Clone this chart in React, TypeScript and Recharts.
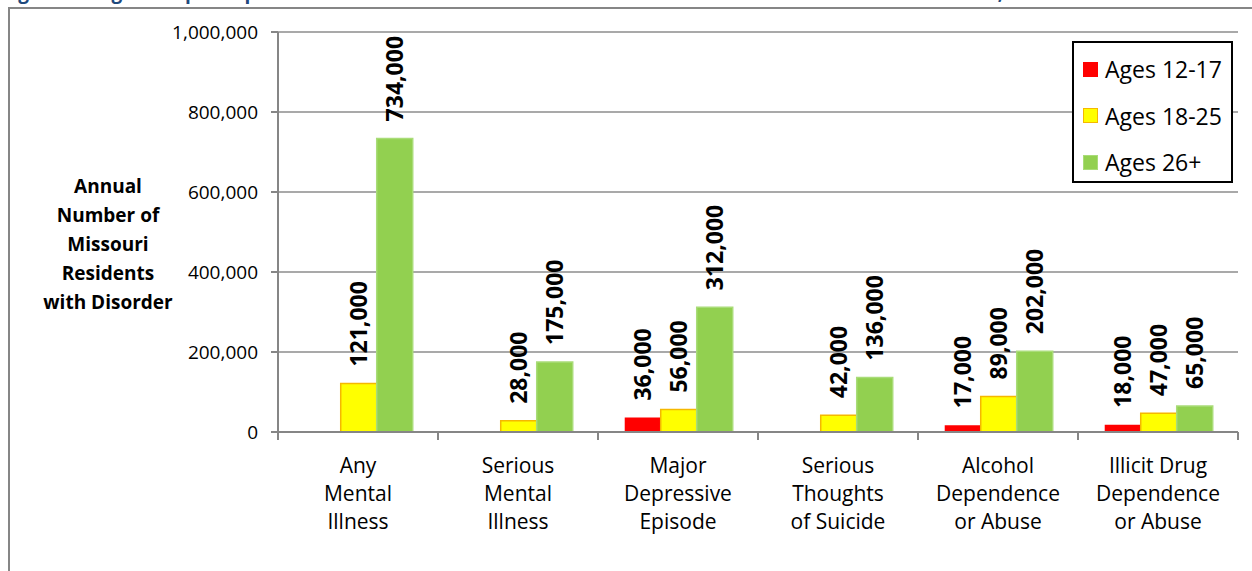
import { Bar, BarChart, CartesianGrid, LabelList, XAxis, YAxis } from "recharts";

// Categorias (quebra de linha = nova linha no rótulo do eixo)
const CATEGORIES = [
  "Any\nMental\nIllness",
  "Serious\nMental\nIllness",
  "Major\nDepressive\nEpisode",
  "Serious\nThoughts\nof Suicide",
  "Alcohol\nDependence\nor Abuse",
  "Illicit Drug\nDependence\nor Abuse",
];

const AGES_12_17 = [null, null, 36000, null, 17000, 18000];
const AGES_18_25 = [121000, 28000, 56000, 42000, 89000, 47000];
const AGES_26_PLUS = [734000, 175000, 312000, 136000, 202000, 65000];

const Y_TICKS = [0, 200000, 400000, 600000, 800000, 1000000];

const SERIES = [
  { key: "a", name: "Ages 12-17", fill: "#FF0000", stroke: "none" },
  { key: "b", name: "Ages 18-25", fill: "#FFFF00", stroke: "#F5B800" },
  { key: "c", name: "Ages 26+", fill: "#92D050", stroke: "#A9DC78" },
];

const FONT = "'Open Sans', sans-serif";
const GREY = "#868686";

const data = CATEGORIES.map((name, i) => ({
  name,
  a: AGES_12_17[i],
  b: AGES_18_25[i],
  c: AGES_26_PLUS[i],
}));

const fmt = (v: number) => v.toLocaleString("en-US");

function ValueLabel(props: any) {
  const { x, y, width, value } = props;
  if (value == null) return null;
  const cx = Number(x) + Number(width) / 2;
  const ty = Number(y) - 17;
  return (
    <text
      x={cx}
      y={ty}
      dy="0.36em"
      transform={`rotate(-90 ${cx} ${ty})`}
      textAnchor="start"
      fontFamily={FONT}
      fontWeight={700}
      fontSize={23}
      fill="#000"
    >
      {fmt(Number(value))}
    </text>
  );
}

function CategoryTick(props: any) {
  const { x, y, payload, width, visibleTicksCount, index } = props;
  const half =
    payload?.offset || Number(width) / Number(visibleTicksCount || 6) / 2;
  const lines = String(payload.value).split("\n");
  const last = index === (visibleTicksCount || 6) - 1;
  return (
    <g>
      <line x1={x - half} x2={x - half} y1={y} y2={y + 8} stroke={GREY} strokeWidth={2} />
      {last && (
        <line x1={x + half} x2={x + half} y1={y} y2={y + 8} stroke={GREY} strokeWidth={2} />
      )}
      {lines.map((l, i) => (
        <text
          key={i}
          x={x}
          y={y + 33 + i * 28}
          dy="0.36em"
          textAnchor="middle"
          fontFamily={FONT}
          fontSize={21}
          fill="#000"
        >
          {l}
        </text>
      ))}
    </g>
  );
}

function LegendBox() {
  return (
    <div
      style={{
        position: "absolute",
        left: 1072,
        top: 41,
        boxSizing: "border-box",
        width: 161,
        height: 142,
        border: "2px solid #000",
        background: "#fff",
        padding: "3px 0 0 9px",
        fontFamily: FONT,
        fontSize: 23,
      }}
    >
      {SERIES.map((s) => (
        <div
          key={s.key}
          style={{ display: "flex", alignItems: "center", height: 46.5 }}
        >
          <span
            style={{
              boxSizing: "border-box",
              width: 15,
              height: 15,
              background: s.fill,
              border: s.stroke === "none" ? "none" : `1.5px solid ${s.stroke}`,
              marginRight: 7,
            }}
          />
          <span style={{ color: "#000" }}>{s.name}</span>
        </div>
      ))}
    </div>
  );
}

export default function App() {
  return (
    <div
      style={{
        position: "absolute",
        left: 0,
        top: 0,
        width: 1252,
        height: 571,
        overflow: "hidden",
        background: "#fff",
      }}
    >
      {/* título cortado no topo */}
      <div
        style={{
          position: "absolute",
          left: 2,
          top: -17,
          whiteSpace: "nowrap",
          fontFamily: FONT,
          fontWeight: 700,
          fontSize: 19,
          lineHeight: "19px",
          color: "#1F497D",
        }}
      >
        Figure 10. Age Group Comparisons of Missouri Residents with Mental Illness and Substance Use Disorders, 2010
      </div>
      <div
        style={{
          position: "absolute",
          left: 8,
          top: 7,
          width: 1400,
          height: 700,
          borderLeft: `2px solid ${GREY}`,
          borderTop: `2px solid ${GREY}`,
        }}
      />
      <div
        style={{
          position: "absolute",
          left: 8,
          top: 172,
          width: 200,
          textAlign: "center",
          fontFamily: FONT,
          fontWeight: 700,
          fontSize: 19,
          lineHeight: "29px",
          color: "#000",
        }}
      >
        Annual
        <br />
        Number of
        <br />
        Missouri
        <br />
        Residents
        <br />
        with Disorder
      </div>
      <div style={{ position: "absolute", left: 0, top: 0 }}>
        <BarChart
          width={1252}
          height={571}
          data={data}
          margin={{ top: 32, right: 14, left: 178, bottom: 79 }}
          barCategoryGap="16.7%"
          barGap={0}
        >
          <CartesianGrid vertical={false} stroke="#8C8C8C" strokeWidth={1.5} />
          <XAxis
            dataKey="name"
            height={60}
            interval={0}
            axisLine={{ stroke: GREY, strokeWidth: 2 }}
            tickLine={false}
            tickSize={0}
            tickMargin={0}
            tick={<CategoryTick />}
          />
          <YAxis
            width={100}
            domain={[0, 1000000]}
            ticks={Y_TICKS}
            interval={0}
            axisLine={{ stroke: GREY, strokeWidth: 2 }}
            tickLine={{ stroke: GREY, strokeWidth: 2 }}
            tickSize={7}
            tickMargin={13}
            tickFormatter={(v) => fmt(Number(v))}
            tick={{ fontFamily: FONT, fontSize: 19, fill: "#000" }}
          />
          {SERIES.map((s) => (
            <Bar
              key={s.key}
              dataKey={s.key}
              name={s.name}
              fill={s.fill}
              stroke={s.stroke}
              strokeWidth={1.5}
              isAnimationActive={false}
            >
              <LabelList dataKey={s.key} content={<ValueLabel />} />
            </Bar>
          ))}
        </BarChart>
      </div>
      <LegendBox />
    </div>
  );
}
